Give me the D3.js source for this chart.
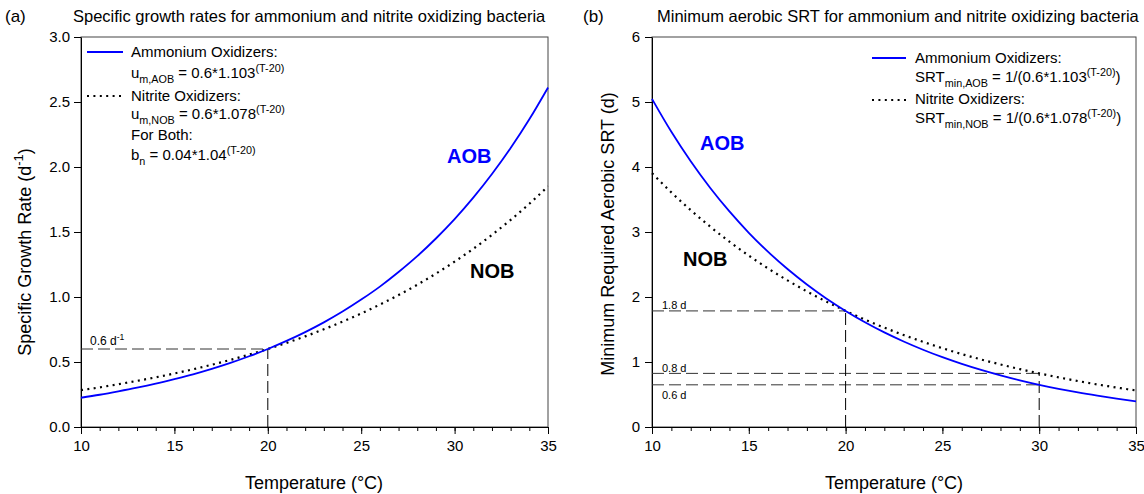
<!DOCTYPE html>
<html><head><meta charset="utf-8">
<script src="https://cdn.jsdelivr.net/npm/d3@7"></script>
<style>
body{margin:0;background:#fff}
text{font-family:"Liberation Sans",Arial,Helvetica,sans-serif;fill:#000}
</style>
</head><body>
<svg id="chart" width="1144" height="494"></svg>
<script>
// ---------- data ----------
const temperature = [10,11,12,13,14,15,16,17,18,19,20,21,22,23,24,25,26,27,28,29,30,31,32,33,34,35];
const aobGrowth = [0.225,0.248,0.274,0.302,0.333,0.368,0.405,0.447,0.493,0.544,0.600,0.662,0.730,0.805,0.888,0.980,1.080,1.192,1.314,1.450,1.599,1.764,1.946,2.146,2.367,2.611];
const nobGrowth = [0.283,0.305,0.329,0.355,0.382,0.412,0.444,0.479,0.516,0.557,0.600,0.647,0.697,0.752,0.810,0.873,0.942,1.015,1.094,1.180,1.272,1.371,1.478,1.593,1.717,1.851];
const aobSRT = [5.048,4.541,4.088,3.681,3.316,2.988,2.694,2.430,2.192,1.978,1.786,1.612,1.456,1.316,1.189,1.074,0.971,0.878,0.794,0.718,0.649,0.587,0.531,0.481,0.435,0.394];
const nobSRT = [3.905,3.609,3.336,3.084,2.851,2.637,2.438,2.255,2.086,1.930,1.786,1.652,1.529,1.415,1.310,1.212,1.122,1.039,0.962,0.891,0.825,0.764,0.707,0.655,0.607,0.562];
const xTicks = [10,15,20,25,30,35];
const xMinorTicks = [10,11,12,13,14,15,16,17,18,19,20,21,22,23,24,25,26,27,28,29,30,31,32,33,34,35];
const growthTicks = [0,0.5,1.0,1.5,2.0,2.5,3.0];
const srtTicks = [0,1,2,3,4,5,6];
// reference (dashed) lines: [temperature, value]
const growthRefs = [[20,0.6]];
const srtRefsH = [[20,1.786],[30,0.825],[30,0.649]];
const srtRefsV = [[20,1.786],[30,0.825]];

const BLUE = "#0000ff";
const svg = d3.select("#chart");

// rich-text helper: parts = [[text, mode]] mode: ''|'sub'|'sup'
function rich(sel, parts, base){
  let shift = 0;
  parts.forEach(p=>{
    const [t,m] = p;
    const ts = sel.append("tspan").text(t);
    const target = m==="sub"? base*0.3 : m==="sup"? -base*0.42 : 0;
    if(m) ts.attr("font-size", base*0.72);
    ts.attr("dy", target - shift);
    shift = target;
  });
}

function panel(opt){
  const g = svg.append("g");
  const x = d3.scaleLinear().domain([10,35]).range([opt.x0,opt.x1]);
  const y = d3.scaleLinear().domain([0,opt.ymax]).range([427,37]);

  g.append("rect").attr("x",opt.x0).attr("y",37).attr("width",opt.x1-opt.x0).attr("height",390)
    .attr("fill","none").attr("stroke","#444").attr("stroke-width",1);

  const xm = g.append("g").attr("transform","translate(0,427)")
    .call(d3.axisBottom(x).tickValues(xMinorTicks).tickSize(4).tickFormat(""));
  xm.select(".domain").remove();
  const xa = g.append("g").attr("transform","translate(0,427)")
    .call(d3.axisBottom(x).tickValues(xTicks).tickSize(7).tickSizeOuter(0).tickPadding(6).tickFormat(d3.format("d")));
  xa.selectAll("text").attr("font-size",15).attr("font-family","Liberation Sans, Arial, sans-serif");
  const ya = g.append("g").attr("transform",`translate(${opt.x0},0)`)
    .call(d3.axisLeft(y).tickValues(opt.yTicks).tickSize(7).tickSizeOuter(0).tickPadding(opt.ypad).tickFormat(opt.yfmt));
  ya.selectAll("text").attr("font-size",15).attr("font-family","Liberation Sans, Arial, sans-serif");
  g.selectAll(".domain").attr("stroke","#000");
  g.selectAll(".tick line").attr("stroke","#000");

  const dash = "12,5";
  opt.refsH.forEach(r=>{
    g.append("line").attr("x1",x(10)).attr("x2",x(r[0])).attr("y1",y(r[1])).attr("y2",y(r[1]))
      .attr("stroke","#333").attr("stroke-dasharray",dash).attr("stroke-width",1);
  });
  opt.refsV.forEach(r=>{
    g.append("line").attr("x1",x(r[0])).attr("x2",x(r[0])).attr("y1",y(0)).attr("y2",y(r[1]))
      .attr("stroke","#000").attr("stroke-dasharray",dash).attr("stroke-width",1);
  });

  const line = d3.line().x((d,i)=>x(temperature[i])).y(d=>y(d)).curve(d3.curveMonotoneX);
  g.append("path").attr("d",line(opt.nob)).attr("fill","none").attr("stroke","#000")
    .attr("stroke-width",2.2).attr("stroke-dasharray","2,4.4");
  g.append("path").attr("d",line(opt.aob)).attr("fill","none").attr("stroke",BLUE)
    .attr("stroke-width",1.8);
  return {g,x,y};
}

panel({x0:81,x1:548,ymax:3,yTicks:growthTicks,yfmt:d3.format(".1f"),ypad:4,
  refsH:growthRefs,refsV:growthRefs,aob:aobGrowth,nob:nobGrowth});
panel({x0:652,x1:1136,ymax:6,yTicks:srtTicks,yfmt:d3.format("d"),ypad:5,
  refsH:srtRefsH,refsV:srtRefsV,aob:aobSRT,nob:nobSRT});

// titles
svg.append("text").attr("x",5).attr("y",22).attr("font-size",17).text("(a)");
svg.append("text").attr("x",73).attr("y",22).attr("font-size",16.5).text("Specific growth rates for ammonium and nitrite oxidizing bacteria");
svg.append("text").attr("x",583).attr("y",22).attr("font-size",17).text("(b)");
svg.append("text").attr("x",657).attr("y",22).attr("font-size",16.5).text("Minimum aerobic SRT for ammonium and nitrite oxidizing bacteria");

// axis titles
svg.append("text").attr("x",314).attr("y",489).attr("font-size",18).attr("text-anchor","middle").text("Temperature (°C)");
svg.append("text").attr("x",894).attr("y",489).attr("font-size",18).attr("text-anchor","middle").text("Temperature (°C)");
const yl = svg.append("text").attr("transform","translate(31,252) rotate(-90)").attr("font-size",18).attr("text-anchor","middle");
rich(yl,[["Specific Growth Rate (d",""],["-1","sup"],[")",""]],18);
svg.append("text").attr("transform","translate(614,234) rotate(-90)").attr("font-size",18).attr("text-anchor","middle").text("Minimum Required Aerobic SRT (d)");

// ref labels
rich(svg.append("text").attr("x",90).attr("y",345).attr("font-size",12).attr("fill","#222"),[["0.6 d",""],["-1","sup"]],12);
svg.append("text").attr("x",662).attr("y",309).attr("font-size",11).text("1.8 d");
svg.append("text").attr("x",662).attr("y",372).attr("font-size",11).text("0.8 d");
svg.append("text").attr("x",662).attr("y",399).attr("font-size",11).text("0.6 d");

// curve labels
svg.append("text").attr("x",447).attr("y",163).attr("font-size",20).attr("font-weight","bold").style("fill",BLUE).text("AOB");
svg.append("text").attr("x",470).attr("y",278).attr("font-size",20).attr("font-weight","bold").text("NOB");
svg.append("text").attr("x",700).attr("y",150).attr("font-size",20).attr("font-weight","bold").style("fill",BLUE).text("AOB");
svg.append("text").attr("x",683).attr("y",266).attr("font-size",20).attr("font-weight","bold").text("NOB");

// legend (a)
const LF = 15;
svg.append("line").attr("x1",87).attr("x2",123).attr("y1",52).attr("y2",52).attr("stroke",BLUE).attr("stroke-width",1.8);
svg.append("line").attr("x1",87).attr("x2",121).attr("y1",96).attr("y2",96).attr("stroke","#000").attr("stroke-width",2.2).attr("stroke-dasharray","2,4.4");
svg.append("text").attr("x",131).attr("y",57).attr("font-size",LF).text("Ammonium Oxidizers:");
rich(svg.append("text").attr("x",131).attr("y",78).attr("font-size",LF),
  [["u",""],["m,AOB","sub"],[" = 0.6*1.103",""],["(T-20)","sup"]],LF);
svg.append("text").attr("x",131).attr("y",101).attr("font-size",LF).text("Nitrite Oxidizers:");
rich(svg.append("text").attr("x",131).attr("y",119).attr("font-size",LF),
  [["u",""],["m,NOB","sub"],["  = 0.6*1.078",""],["(T-20)","sup"]],LF);
svg.append("text").attr("x",131).attr("y",140).attr("font-size",LF).text("For Both:");
rich(svg.append("text").attr("x",131).attr("y",160).attr("font-size",LF),
  [["b",""],["n","sub"],[" = 0.04*1.04",""],["(T-20)","sup"]],LF);

// legend (b)
svg.append("line").attr("x1",872).attr("x2",906).attr("y1",58).attr("y2",58).attr("stroke",BLUE).attr("stroke-width",1.8);
svg.append("line").attr("x1",872).attr("x2",906).attr("y1",100).attr("y2",100).attr("stroke","#000").attr("stroke-width",2.2).attr("stroke-dasharray","2,4.4");
svg.append("text").attr("x",915).attr("y",63).attr("font-size",LF).text("Ammonium Oxidizers:");
rich(svg.append("text").attr("x",915).attr("y",82).attr("font-size",LF),
  [["SRT",""],["min,AOB","sub"],[" = 1/(0.6*1.103",""],["(T-20)","sup"],[")",""]],LF);
svg.append("text").attr("x",915).attr("y",104).attr("font-size",LF).text("Nitrite Oxidizers:");
rich(svg.append("text").attr("x",915).attr("y",123).attr("font-size",LF),
  [["SRT",""],["min,NOB","sub"],["  = 1/(0.6*1.078",""],["(T-20)","sup"],[")",""]],LF);
</script>
</body></html>
